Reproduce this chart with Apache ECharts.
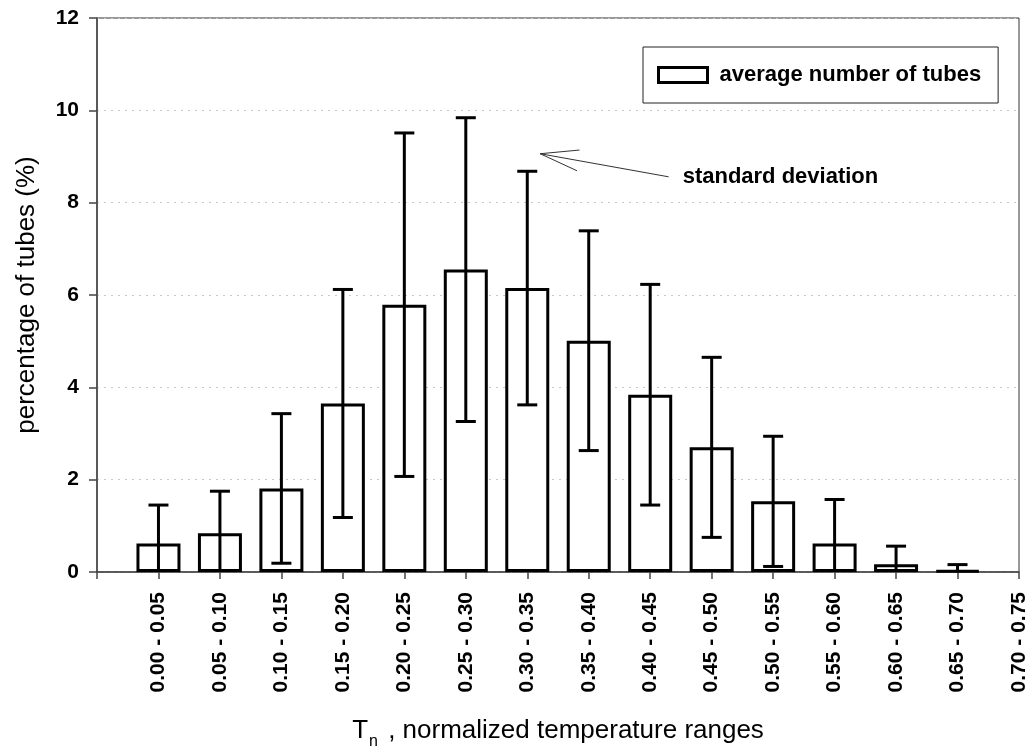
<!DOCTYPE html>
<html>
<head>
<meta charset="utf-8">
<title>Normalized temperature distribution of tubes</title>
<script src="https://cdn.jsdelivr.net/npm/echarts@6/dist/echarts.min.js"></script>
<style>
  html, body { margin: 0; padding: 0; background: #fff; }
  #chart { width: 1031px; height: 753px; }
</style>
</head>
<body>
<div id="chart"></div>
<script>
// Temperature range bins (Tn); the last bin holds no tubes
const ranges = [
  '0.00 - 0.05', '0.05 - 0.10', '0.10 - 0.15', '0.15 - 0.20', '0.20 - 0.25',
  '0.25 - 0.30', '0.30 - 0.35', '0.35 - 0.40', '0.40 - 0.45', '0.45 - 0.50',
  '0.50 - 0.55', '0.55 - 0.60', '0.60 - 0.65', '0.65 - 0.70', '0.70 - 0.75'
];
// Average share of tubes per bin (%)
const meanPct = [0.62, 0.84, 1.81, 3.65, 5.79, 6.55, 6.15, 5.01, 3.84, 2.70, 1.53, 0.62, 0.17, 0.03];
// Standard deviation per bin (%)
const stdDev = [0.83, 0.91, 1.62, 2.47, 3.72, 3.29, 2.53, 2.38, 2.39, 1.95, 1.41, 0.95, 0.39, 0.13];
// Y axis ticks
const yTicks = { min: 0, max: 12, step: 2 };

const FONT = 'Arial, "Liberation Sans", sans-serif';

// leading empty slot puts the first bin one tick right of the origin
const axisCats = [''].concat(ranges);
const barData = [null].concat(meanPct);
const errData = meanPct.map((m, i) => [i + 1, m - stdDev[i], m + stdDev[i]]);

const chart = echarts.init(document.getElementById('chart'), null, { renderer: 'canvas' });

function renderErrorBar(params, api) {
  const x = api.value(0);
  const lo = api.coord([x, api.value(1)]);
  const hi = api.coord([x, api.value(2)]);
  const half = 10;
  const style = { stroke: '#000', lineWidth: 3 };
  return {
    type: 'group',
    children: [
      { type: 'line', shape: { x1: lo[0], y1: lo[1], x2: hi[0], y2: hi[1] }, style: style },
      { type: 'line', shape: { x1: hi[0] - half, y1: hi[1], x2: hi[0] + half, y2: hi[1] }, style: style },
      { type: 'line', shape: { x1: lo[0] - half, y1: lo[1], x2: lo[0] + half, y2: lo[1] }, style: style }
    ]
  };
}

chart.setOption({
  backgroundColor: '#fff',
  animation: false,
  textStyle: { fontFamily: FONT },
  grid: {
    left: 97, right: 12, top: 18, bottom: 181,
    outerBoundsMode: 'none',
    show: true, borderColor: '#333', borderWidth: 1, backgroundColor: 'transparent'
  },
  legend: {
    data: ['average number of tubes'],
    left: 643, top: 47,
    padding: [17, 17, 17, 14],
    borderColor: '#222', borderWidth: 1,
    backgroundColor: '#fff',
    icon: 'rect',
    itemWidth: 49, itemHeight: 15,
    itemStyle: { color: '#fff', borderColor: '#000', borderWidth: 3 },
    textStyle: { fontFamily: FONT, fontWeight: 'bold', fontSize: 22, color: '#000', padding: [0, 0, 0, 7] }
  },
  xAxis: {
    type: 'category',
    data: axisCats,
    boundaryGap: false,
    name: '{t|T}{sub|n}{r| , normalized temperature ranges}',
    nameLocation: 'middle',
    nameGap: 140,
    nameTextStyle: {
      rich: {
        t: { fontFamily: FONT, fontSize: 26, color: '#000' },
        sub: { fontFamily: FONT, fontSize: 16, color: '#000', padding: [22, 3, 0, 1] },
        r: { fontFamily: FONT, fontSize: 26, color: '#000' }
      }
    },
    axisLine: { lineStyle: { color: '#444', width: 1.5 } },
    axisTick: { show: true, length: 7, interval: 0, lineStyle: { color: '#444', width: 1.5 } },
    axisLabel: {
      interval: 0, rotate: 90, margin: 20,
      fontFamily: FONT, fontWeight: 'bold', fontSize: 21, color: '#000'
    },
    splitLine: { show: false }
  },
  yAxis: {
    type: 'value',
    min: yTicks.min, max: yTicks.max, interval: yTicks.step,
    name: 'percentage of tubes (%)',
    nameLocation: 'middle',
    nameGap: 57,
    nameTextStyle: { fontFamily: FONT, fontSize: 26, color: '#000' },
    axisLine: { show: true, lineStyle: { color: '#444', width: 1.5 } },
    axisTick: { show: true, length: 8, lineStyle: { color: '#444', width: 1.5 } },
    axisLabel: { margin: 18, fontFamily: FONT, fontWeight: 'bold', fontSize: 21, color: '#000' },
    splitLine: { show: true, lineStyle: { color: '#c8c8c8', type: [2, 5], width: 1 } }
  },
  series: [
    {
      name: 'average number of tubes',
      type: 'bar',
      data: barData,
      barWidth: 44,
      itemStyle: { color: '#fff', borderColor: '#000', borderWidth: 3 },
      z: 2
    },
    {
      name: 'standard deviation',
      type: 'custom',
      data: errData,
      renderItem: renderErrorBar,
      encode: { x: 0, y: [1, 2] },
      clip: true,
      z: 3
    }
  ]
});

// pixel position of a point between category ticks (category axes round to whole slots)
function toPixel(x, y) {
  const i0 = Math.floor(x);
  const a = chart.convertToPixel({ gridIndex: 0 }, [i0, y]);
  const b = chart.convertToPixel({ gridIndex: 0 }, [i0 + 1, y]);
  const f = x - i0;
  return [a[0] + (b[0] - a[0]) * f, a[1]];
}

// "standard deviation" callout: arrow pointing at the error bars
(function addCallout() {
  const tip = toPixel(7.21, 9.06);
  const tail = toPixel(9.30, 8.56);
  const wingA = toPixel(7.85, 9.14);
  const wingB = toPixel(7.81, 8.69);
  const lineStyle = { stroke: '#333', lineWidth: 1 };
  chart.setOption({
    graphic: [
      { type: 'line', shape: { x1: tail[0], y1: tail[1], x2: tip[0], y2: tip[1] }, style: lineStyle, z: 10 },
      { type: 'line', shape: { x1: tip[0], y1: tip[1], x2: wingA[0], y2: wingA[1] }, style: lineStyle, z: 10 },
      { type: 'line', shape: { x1: tip[0], y1: tip[1], x2: wingB[0], y2: wingB[1] }, style: lineStyle, z: 10 },
      {
        type: 'text', x: tail[0] + 14, y: tail[1], z: 10,
        style: {
          text: 'standard deviation', fill: '#000',
          font: 'bold 22px ' + FONT, textVerticalAlign: 'middle', textAlign: 'left'
        }
      }
    ]
  });
})();
</script>
</body>
</html>
